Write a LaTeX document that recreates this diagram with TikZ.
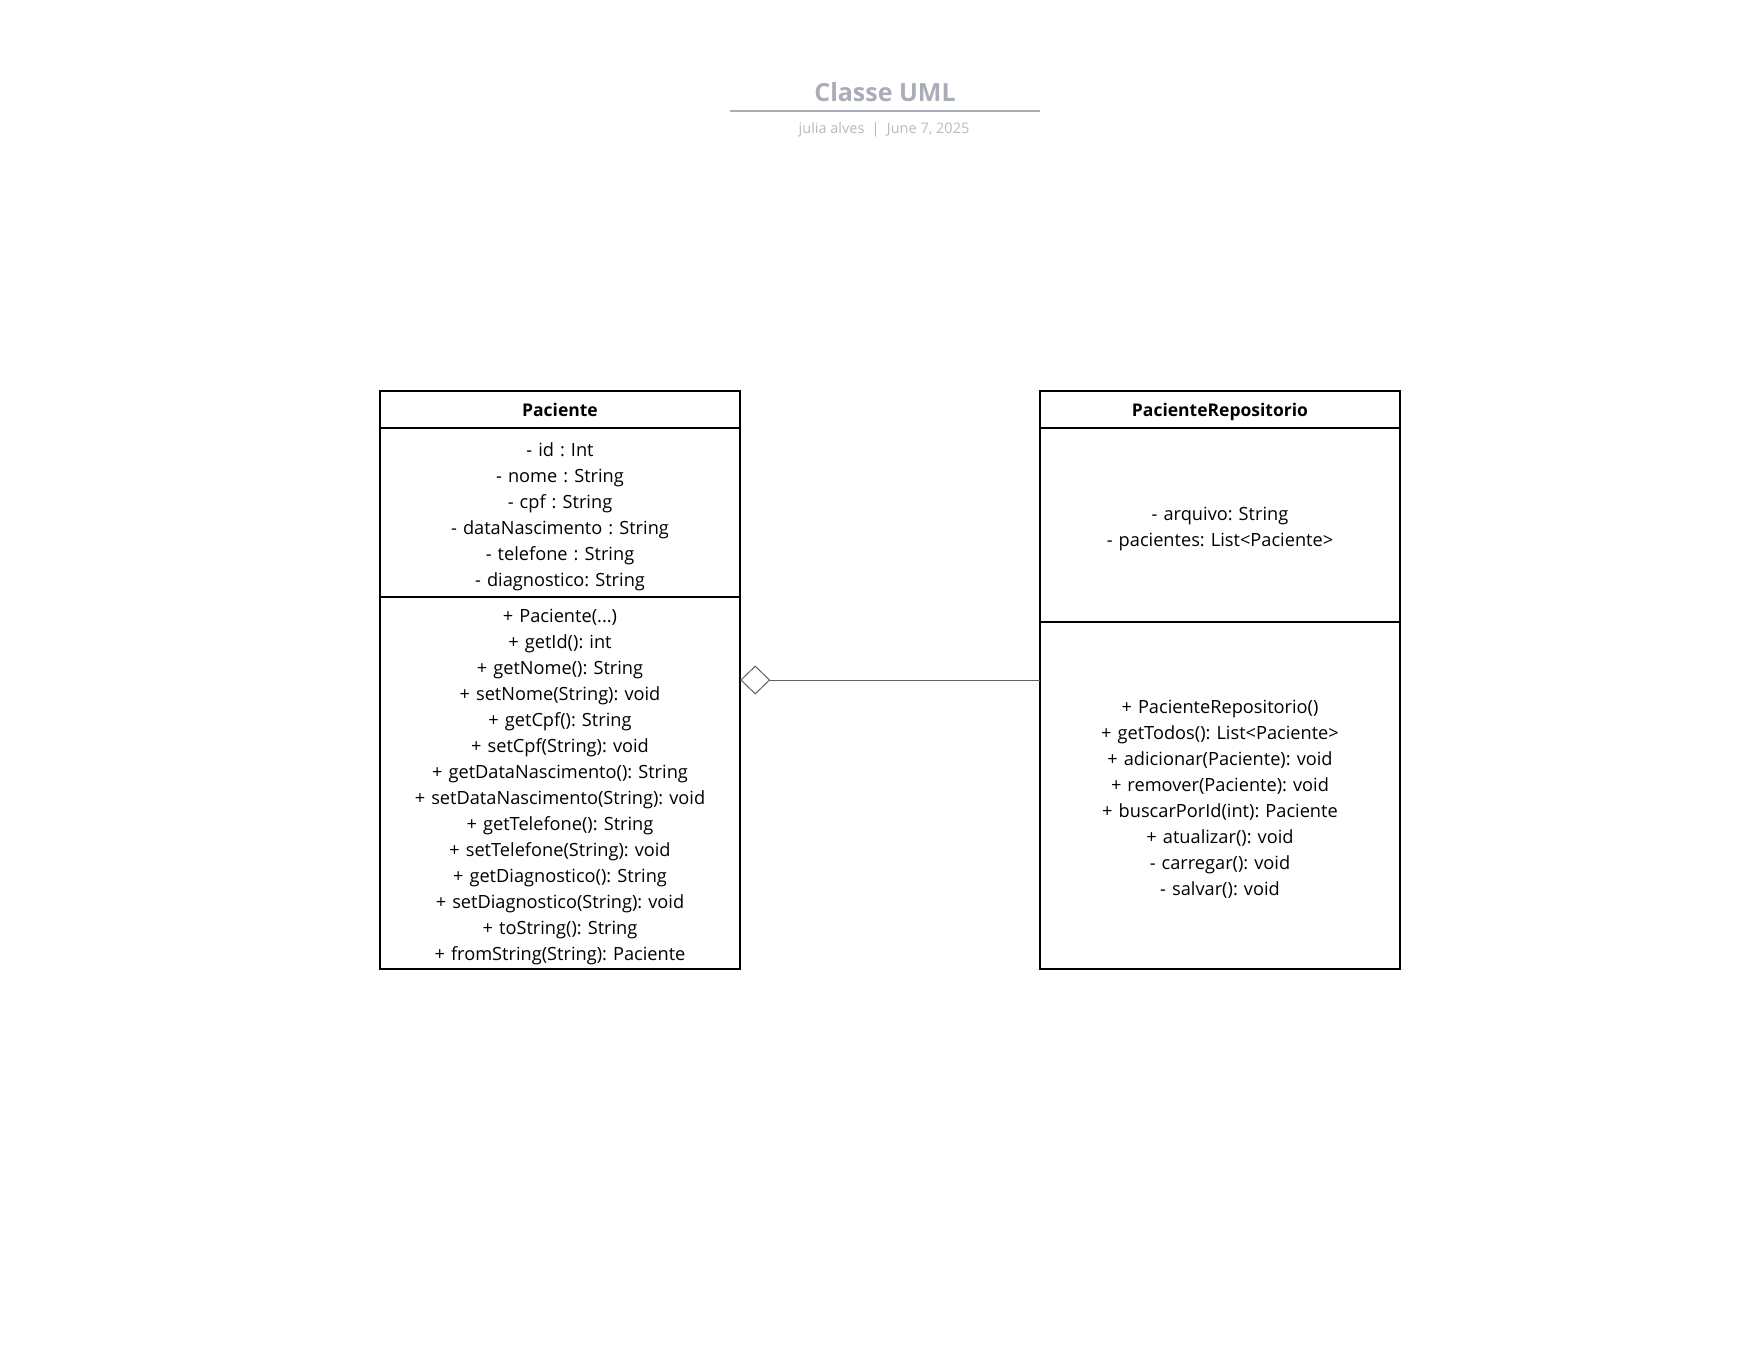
\documentclass[tikz,border=0pt]{standalone}
\usepackage{fontspec}
\setmainfont{Open Sans}
\usepackage{tikz}
\usetikzlibrary{arrows.meta,positioning,fit}
\frenchspacing
\definecolor{umlgray}{RGB}{169,173,183}
\definecolor{umllightgray}{RGB}{182,186,194}
\definecolor{linkgray}{RGB}{95,95,95}
\tikzstyle{classbox} = [rectangle, draw=black, line width=1.5pt, outer sep=0pt, inner xsep=4pt, inner ysep=0pt, minimum width=360pt, text width=352pt, align=center]
\tikzstyle{classpart} = [classbox, font=\fontsize{18.2}{26}\selectfont, execute at begin node={\rule{0pt}{25pt}}, execute at end node=\strut]
\tikzstyle{classhead} = [classbox, minimum height=37pt, font=\fontsize{17.5}{26}\selectfont\bfseries, execute at begin node={\rule[-7.8pt]{0pt}{30pt}}]
\tikzstyle{aggregation} = [line width=1pt, color=linkgray, {Diamond[open, length=30pt, width=29pt]}-]

\begin{document}
\begin{tikzpicture}[x=1pt, y=-1pt]
\useasboundingbox (0,0) rectangle (1760,1360);

% Title block
\node (title) [anchor=south, minimum width=310pt, inner xsep=0pt, inner ysep=9pt, font=\fontsize{25}{28}\selectfont\bfseries, text=umlgray] at (885,111) {Classe UML};
\draw[umlgray, line width=2pt] (title.south west) -- (title.south east);
\node (subtitle) [anchor=base, font=\fontsize{14.5}{18}\selectfont, text=umllightgray] at (884,133) {julia alves\enspace|\enspace June 7, 2025};

% Paciente
\node (paciente) [classhead] at (560,409.5) {Paciente};
\node (pacienteAttr) [classpart, minimum height=169pt, below=0pt of paciente] {- id : Int\\- nome : String\\- cpf : String\\- dataNascimento : String\\- telefone : String\\- diagnostico: String};
\node (pacienteMet) [classpart, minimum height=372pt, below=0pt of pacienteAttr] {+ Paciente(...)\\+ getId(): int\\+ getNome(): String\\+ setNome(String): void\\+ getCpf(): String\\+ setCpf(String): void\\+ getDataNascimento(): String\\+ setDataNascimento(String): void\\+ getTelefone(): String\\+ setTelefone(String): void\\+ getDiagnostico(): String\\+ setDiagnostico(String): void\\+ toString(): String\\+ fromString(String): Paciente};

% PacienteRepositorio
\node (repo) [classhead, right=300pt of paciente] {PacienteRepositorio};
\node (repoAttr) [classpart, minimum height=194pt, below=0pt of repo] {- arquivo: String\\- pacientes: List<Paciente>};
\node (repoMet) [classpart, minimum height=347pt, below=0pt of repoAttr] {+ PacienteRepositorio()\\+ getTodos(): List<Paciente>\\+ adicionar(Paciente): void\\+ remover(Paciente): void\\+ buscarPorId(int): Paciente\\+ atualizar(): void\\- carregar(): void\\- salvar(): void};

% whole classes
\node (pacienteBox) [fit=(paciente)(pacienteMet), inner sep=0pt] {};
\node (repoBox) [fit=(repo)(repoMet), inner sep=0pt] {};

% Aggregation
\draw[aggregation] (pacienteBox.east) -- (repoBox.west);
\end{tikzpicture}
\end{document}
